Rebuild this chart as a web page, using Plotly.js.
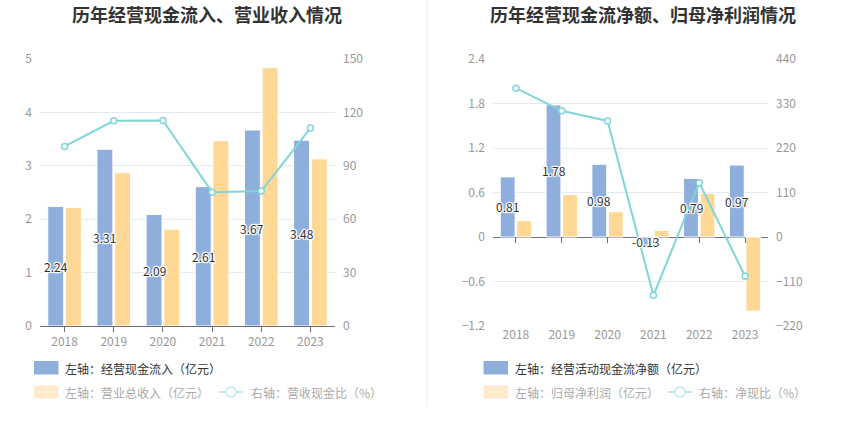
<!DOCTYPE html>
<html><head><meta charset="utf-8">
<script src="https://cdn.plot.ly/plotly-3.0.1.min.js"></script>
<style>html,body{margin:0;padding:0;background:#fff}#chart{width:850px;height:437px}</style>
</head><body><div id="chart"></div>
<script>
// ---- data ----
const years = ['2018','2019','2020','2021','2022','2023'];
const cashInflow = [2.24, 3.31, 2.09, 2.61, 3.67, 3.48];      // 经营现金流入 (亿元)
const revenue = [2.22, 2.87, 1.81, 3.47, 4.84, 3.13];         // 营业总收入 (亿元)
const revCashRatio = [100.9, 115.3, 115.5, 75.2, 75.8, 111.2]; // 营收现金比 (%)
const netCashFlow = [0.81, 1.78, 0.98, -0.13, 0.79, 0.97];    // 经营活动现金流净额 (亿元)
const netProfit = [0.22, 0.57, 0.34, 0.09, 0.59, -1.00];      // 归母净利润 (亿元)
const netCashRatio = [368, 312, 287, -144, 134, -97];         // 净现比 (%)

// ---- style ----
const W = 850, H = 437;
const px = x => x / W, py = y => 1 - y / H;
const BLUE = '#8eaedb', ORANGE = '#ffd896', TEAL = '#80d6d9';
const FONT = '"Noto Sans CJK SC", "Noto Sans", sans-serif';
const AX = '#6E7079', LBL = '#999999', GRID = '#e3e8f2';
const shadow = '1px 0 1px #fff, -1px 0 1px #fff, 0 1px 1px #fff, 0 -1px 1px #fff, 1px 1px 1px #fff, -1px -1px 1px #fff, 1px -1px 1px #fff, -1px 1px 1px #fff';
const BARGAP = 0.28, GROUPGAP = 0.1;

const yDom = [py(326), py(59)];
const L1 = 40, R1 = 335, L2 = 493, R2 = 768;
const dom1 = [px(L1), px(R1)], dom2 = [px(L2), px(R2)];
const r3 = [-1.2, 2.4];
const xr = [-0.5, years.length - 0.5];
const zeroPos = yDom[0] + (yDom[1] - yDom[0]) * (0 - r3[0]) / (r3[1] - r3[0]);
// pixel offset of first bar in a group from the category centre
const barShift = (l, r) => -((r - l) / years.length) * (1 - BARGAP) / 4;

const traces = [
  {type: 'bar', x: years, y: cashInflow, xaxis: 'x', yaxis: 'y', hoverinfo: 'skip',
    marker: {color: BLUE, line: {color: '#fff', width: 1}}},
  {type: 'bar', x: years, y: revenue, xaxis: 'x', yaxis: 'y', hoverinfo: 'skip',
    marker: {color: ORANGE, line: {color: '#fff', width: 1}}},
  {type: 'scatter', mode: 'lines+markers', x: years, y: revCashRatio, xaxis: 'x', yaxis: 'y2',
    line: {color: TEAL, width: 2}, marker: {symbol: 'circle', size: 6, color: '#fff', line: {color: TEAL, width: 1.5}}},
  {type: 'bar', x: years, y: netCashFlow, xaxis: 'x2', yaxis: 'y3', hoverinfo: 'skip',
    marker: {color: BLUE, line: {color: '#fff', width: 1}}},
  {type: 'bar', x: years, y: netProfit, xaxis: 'x2', yaxis: 'y3', hoverinfo: 'skip',
    marker: {color: ORANGE, line: {color: '#fff', width: 1}}},
  {type: 'scatter', mode: 'lines+markers', x: years, y: netCashRatio, xaxis: 'x2', yaxis: 'y4',
    line: {color: TEAL, width: 2}, marker: {symbol: 'circle', size: 6, color: '#fff', line: {color: TEAL, width: 1.5}}},
  {type: 'scatter', mode: 'markers', x: years, y: years.map(() => null), xaxis: 'x3', yaxis: 'y3',
    hoverinfo: 'skip', showlegend: false, marker: {opacity: 0}}
];

const tickFont = {family: FONT, size: 12, color: LBL};
const yBase = {domain: yDom, showline: false, zeroline: false, ticks: '', tickfont: tickFont, ticklabelstandoff: 7, fixedrange: true};

const labelFont = {family: FONT, size: 12, color: '#333', shadow: shadow};
const barLabels = (vals, xref, yref, shift) => vals.map((v, i) => ({
  text: v.toFixed(2), x: i, y: v / 2, xref: xref, yref: yref, xshift: shift,
  showarrow: false, xanchor: 'center', yanchor: 'middle', font: labelFont
}));

const legText = (t, x, y, c) => ({text: t, x: px(x), y: py(y), xref: 'paper', yref: 'paper', xanchor: 'left', yanchor: 'middle',
  showarrow: false, font: {family: FONT, size: 12, color: c}});

const layout = {
  width: W, height: H, margin: {l: 0, r: 0, t: 0, b: 0},
  paper_bgcolor: '#fff', plot_bgcolor: 'rgba(0,0,0,0)',
  showlegend: false, barmode: 'group', bargap: BARGAP, bargroupgap: GROUPGAP,
  font: {family: FONT},
  xaxis: {domain: dom1, anchor: 'y', type: 'category', range: xr, showline: true, linecolor: AX, linewidth: 1,
    ticks: 'outside', ticklen: 5, tickcolor: AX, tickfont: tickFont, showgrid: false, fixedrange: true},
  yaxis: Object.assign({}, yBase, {anchor: 'x', range: [0, 5], dtick: 1, showgrid: true, gridcolor: GRID}),
  yaxis2: Object.assign({}, yBase, {anchor: 'x', overlaying: 'y', side: 'right', range: [0, 150], dtick: 30, showgrid: false}),
  xaxis2: {domain: dom2, anchor: 'y3', type: 'category', range: xr, showline: false, ticks: '', tickfont: tickFont, showgrid: false, fixedrange: true},
  yaxis3: Object.assign({}, yBase, {anchor: 'x2', range: r3, dtick: 0.6, showgrid: true, gridcolor: GRID,
    zeroline: true, zerolinecolor: AX, zerolinewidth: 1}),
  yaxis4: Object.assign({}, yBase, {anchor: 'x2', overlaying: 'y3', side: 'right', range: [-220, 440], dtick: 110, showgrid: false}),
  xaxis3: {domain: dom2, overlaying: 'x2', anchor: 'free', position: zeroPos, type: 'category', range: xr,
    showline: false, ticks: 'outside', ticklen: 5, tickcolor: AX, showticklabels: false, showgrid: false, fixedrange: true},
  shapes: [
    {type: 'line', xref: 'paper', yref: 'paper', x0: px(427), x1: px(427), y0: py(0), y1: py(407), line: {color: '#eeeeee', width: 1}},
    // left legend
    {type: 'rect', xref: 'paper', yref: 'paper', x0: px(34), x1: px(58.5), y0: py(374.5), y1: py(361), fillcolor: BLUE, line: {width: 0}},
    {type: 'rect', xref: 'paper', yref: 'paper', x0: px(34), x1: px(58.5), y0: py(398.5), y1: py(385.5), fillcolor: '#feeacb', line: {width: 0}},
    {type: 'line', xref: 'paper', yref: 'paper', x0: px(219), x1: px(243), y0: py(392), y1: py(392), line: {color: '#bfeaec', width: 2}},
    {type: 'circle', xref: 'paper', yref: 'paper', x0: px(226), x1: px(236), y0: py(397), y1: py(387), fillcolor: '#fff', line: {color: '#bfeaec', width: 1.5}},
    // right legend
    {type: 'rect', xref: 'paper', yref: 'paper', x0: px(483.5), x1: px(508), y0: py(374.5), y1: py(361), fillcolor: BLUE, line: {width: 0}},
    {type: 'rect', xref: 'paper', yref: 'paper', x0: px(483.5), x1: px(508), y0: py(398.5), y1: py(385.5), fillcolor: '#feeacb', line: {width: 0}},
    {type: 'line', xref: 'paper', yref: 'paper', x0: px(668), x1: px(692), y0: py(392), y1: py(392), line: {color: '#bfeaec', width: 2}},
    {type: 'circle', xref: 'paper', yref: 'paper', x0: px(675), x1: px(685), y0: py(397), y1: py(387), fillcolor: '#fff', line: {color: '#bfeaec', width: 1.5}}
  ],
  annotations: [
    {text: '<b>历年经营现金流入、营业收入情况</b>', x: px(207), y: py(14), xref: 'paper', yref: 'paper', xanchor: 'center', yanchor: 'middle', showarrow: false, font: {family: FONT, size: 18, color: '#333'}},
    {text: '<b>历年经营现金流净额、归母净利润情况</b>', x: px(643), y: py(14), xref: 'paper', yref: 'paper', xanchor: 'center', yanchor: 'middle', showarrow: false, font: {family: FONT, size: 18, color: '#333'}},
    legText('左轴：经营现金流入（亿元）', 63, 368, '#333'),
    legText('左轴：营业总收入（亿元）', 63, 392, '#aaa'),
    legText('右轴：营收现金比（%）', 248.5, 392, '#aaa'),
    legText('左轴：经营活动现金流净额（亿元）', 512.5, 368, '#333'),
    legText('左轴：归母净利润（亿元）', 512.5, 392, '#aaa'),
    legText('右轴：净现比（%）', 697, 392, '#aaa')
  ].concat(barLabels(cashInflow, 'x', 'y', barShift(L1, R1)), barLabels(netCashFlow, 'x2', 'y3', barShift(L2, R2)))
};

Plotly.newPlot('chart', traces, layout, {displayModeBar: false, staticPlot: true});
</script></body></html>
